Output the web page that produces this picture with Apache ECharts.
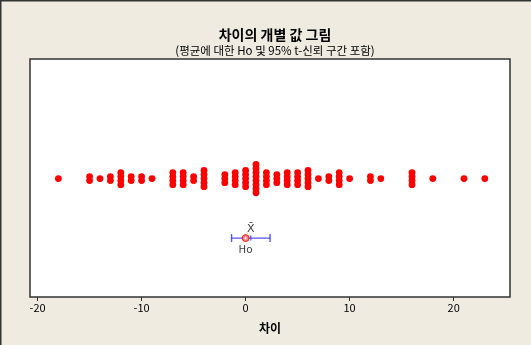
<!DOCTYPE html>
<html>
<head>
<meta charset="utf-8">
<script src="https://cdn.jsdelivr.net/npm/echarts@6/dist/echarts.min.js"></script>
<style>
  html, body { margin: 0; padding: 0; background: #efebe0; }
  #chart { width: 531px; height: 345px; }
</style>
</head>
<body>
<div id="chart"></div>
<script>
// Paired differences: each distinct value and how many observations share it
const diffValues = [-18, -15, -14, -13, -12, -11, -10, -9, -7, -6, -5, -4, -2, -1, 0, 1, 2, 3, 4, 5, 6, 7, 8, 9, 10, 12, 13, 16, 18, 21, 23];
const diffCounts = [1, 2, 1, 2, 4, 2, 2, 1, 4, 4, 2, 5, 3, 4, 5, 8, 4, 3, 4, 4, 5, 1, 2, 4, 1, 2, 1, 4, 1, 1, 1];
const xTicks = [-20, -10, 0, 10, 20];
const hypothesizedMean = 0;   // Ho
const tCritical = 1.988;      // t(0.975, df = 87) for the 95% interval

const titleText = '차이의 개별 값 그림';
const subTitleText = '(평균에 대한 Ho 및 95% t-신뢰 구간 포함)';
const axisTitle = '차이';

// Expand to individual observations and compute the t-interval
const obs = [];
diffValues.forEach((v, i) => { for (let k = 0; k < diffCounts[i]; k++) obs.push(v); });
const n = obs.length;
const mean = obs.reduce((a, b) => a + b, 0) / n;
const sd = Math.sqrt(obs.reduce((a, b) => a + (b - mean) * (b - mean), 0) / (n - 1));
const half = tCritical * sd / Math.sqrt(n);
const ciLow = mean - half, ciHigh = mean + half;

// Rows on the hidden vertical axis; tied values are stacked around their row
const ROW_DOTS = 1, ROW_CI = 0, STACK_STEP = 0.068;
const dotData = [];
diffValues.forEach((v, i) => {
  const c = diffCounts[i];
  for (let k = 0; k < c; k++) dotData.push([v, ROW_DOTS + (k - (c - 1) / 2) * STACK_STEP]);
});

const FONT = '"Noto Sans CJK KR", "DejaVu Sans", sans-serif';
const BLUE = '#2a2aff';

const chart = echarts.init(document.getElementById('chart'), null, { renderer: 'canvas' });
chart.setOption({
  backgroundColor: '#efebe0',
  animation: false,
  title: {
    text: titleText,
    subtext: subTitleText,
    left: 270,
    textAlign: 'center',
    top: 23,
    itemGap: 3,
    textStyle: { fontFamily: FONT, fontSize: 14, fontWeight: 'bold', color: '#000' },
    subtextStyle: { fontFamily: FONT, fontSize: 11.5, color: '#000' }
  },
  grid: {
    left: 30, right: 21, top: 59, bottom: 48,
    show: true, backgroundColor: '#ffffff', borderColor: '#333333', borderWidth: 1.5
  },
  xAxis: {
    type: 'value',
    position: 'bottom',
    min: -20.73, max: 25.42,
    name: axisTitle,
    nameLocation: 'middle',
    nameGap: 25,
    nameTextStyle: { fontFamily: FONT, fontSize: 12, fontWeight: 'bold', color: '#000' },
    axisLine: { show: false, onZero: false },
    splitLine: { show: false },
    axisTick: { show: true, length: 4, customValues: xTicks, lineStyle: { color: '#333' } },
    axisLabel: { customValues: xTicks, fontFamily: FONT, fontSize: 11, color: '#000', margin: 5 }
  },
  yAxis: {
    type: 'value', min: -0.99, max: 3.01,
    show: false, splitLine: { show: false }
  },
  graphic: [
    { type: 'line', shape: { x1: 0, y1: 0.75, x2: 531, y2: 0.75 }, style: { stroke: '#333', lineWidth: 1.5 } },
    { type: 'line', shape: { x1: 0.75, y1: 0, x2: 0.75, y2: 345 }, style: { stroke: '#333', lineWidth: 1.5 } }
  ],
  series: [
    {
      name: 'dots', type: 'scatter', data: dotData,
      symbol: 'circle', symbolSize: 6.8,
      itemStyle: { color: '#ff0000', opacity: 1 }, z: 3
    },
    {
      name: 'ci', type: 'line', data: [[ciLow, ROW_CI], [ciHigh, ROW_CI]],
      symbol: 'none', lineStyle: { color: BLUE, width: 1 }, z: 2
    },
    {
      name: 'ciCaps', type: 'scatter', data: [[ciLow, ROW_CI], [ciHigh, ROW_CI]],
      symbol: 'rect', symbolSize: [1.4, 8], itemStyle: { color: BLUE }, z: 2
    },
    {
      name: 'mean', type: 'scatter', data: [[mean, ROW_CI]],
      symbol: 'rect', symbolSize: [1.2, 5], itemStyle: { color: BLUE }, z: 2,
      label: {
        show: true, position: 'top', distance: 1, formatter: 'X\u0304',
        fontFamily: '"DejaVu Sans", sans-serif', fontSize: 11, color: '#000'
      }
    },
    {
      name: 'Ho', type: 'scatter', data: [[hypothesizedMean, ROW_CI]],
      symbol: 'circle', symbolSize: 7,
      itemStyle: { color: '#ff5a5a', borderColor: '#ff0000', borderWidth: 1 }, z: 4,
      label: {
        show: true, position: 'bottom', distance: 2, formatter: 'Ho',
        fontFamily: FONT, fontSize: 10.5, color: '#000'
      }
    },
    {
      name: 'HoCross', type: 'scatter', data: [[hypothesizedMean, ROW_CI]],
      symbol: 'path://M-1,0L1,0M0,-1L0,1', symbolSize: 4,
      itemStyle: { color: 'none', borderColor: '#ffffff', borderWidth: 1 }, z: 5, silent: true
    }
  ]
});
</script>
</body>
</html>
